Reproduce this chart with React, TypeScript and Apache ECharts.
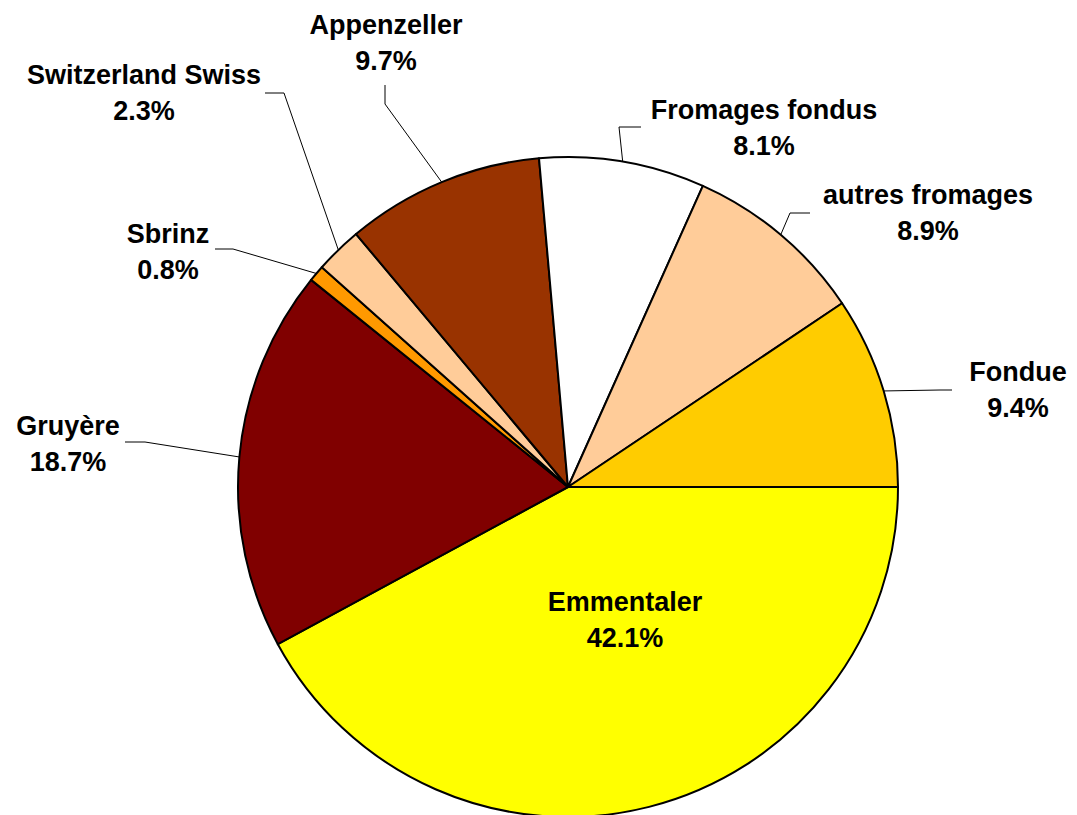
import React, { useEffect, useRef } from "react";
import * as echarts from "echarts";

const categories = [
  "Emmentaler",
  "Gruyère",
  "Sbrinz",
  "Switzerland Swiss",
  "Appenzeller",
  "Fromages fondus",
  "autres fromages",
  "Fondue",
];
const shares = [42.1, 18.7, 0.8, 2.3, 9.7, 8.1, 8.9, 9.4];
const colors = ["#FFFF00", "#800000", "#FF9900", "#FFCC99", "#993300", "#FFFFFF", "#FFCC99", "#FFCC00"];

// label layout (text centre, line end at label, elbow point)
const LABEL_POS: [number, number][] = [
  [625, 620],
  [68, 444],
  [168, 252],
  [144, 93],
  [386, 43],
  [764, 128],
  [928, 213],
  [1018, 390],
];
const LINE_END: ([number, number] | null)[] = [
  null,
  [125, 442],
  [215, 249],
  [265, 93],
  [385, 85],
  [641, 127],
  [810, 213],
  [952, 390],
];
const LINE_ELBOW: ([number, number] | null)[] = [
  null,
  [145, 442],
  [233, 249],
  [284, 93],
  [385, 104],
  [619, 127],
  [790, 213],
  [940, 390],
];

export default function App() {
  const ref = useRef<HTMLDivElement>(null);
  useEffect(() => {
    if (!ref.current) return;
    const chart = echarts.init(ref.current, null, { renderer: "svg" });
    const cx = 568;
    const cy = 487;
    const r = 330;
    chart.setOption({
      animation: false,
      backgroundColor: "#ffffff",
      series: [
        {
          type: "pie",
          center: [cx, cy],
          radius: r,
          startAngle: 0,
          clockwise: true,
          avoidLabelOverlap: false,
          itemStyle: { borderColor: "#000", borderWidth: 2 },
          label: {
            show: true,
            position: "outside",
            formatter: (p: any) => `${p.name}\n${Number(p.value).toFixed(1)}%`,
            fontFamily: "'Liberation Sans', Arial, sans-serif",
            fontWeight: "bold",
            fontSize: 27,
            lineHeight: 36,
            color: "#000",
            align: "center",
          },
          labelLine: {
            show: true,
            length: 10,
            length2: 10,
            lineStyle: { color: "#000", width: 1 },
          },
          labelLayout: (params: any) => {
            const i = params.dataIndex;
            const [x, y] = LABEL_POS[i];
            const out: any = { x, y, align: "center", verticalAlign: "middle" };
            const end = LINE_END[i];
            const elbow = LINE_ELBOW[i];
            if (end && elbow) {
              let p0 = params.labelLinePoints && params.labelLinePoints[0];
              if (!p0) {
                let cum = 0;
                for (let k = 0; k < i; k++) cum += shares[k];
                const a = ((cum + shares[i] / 2) / 100) * Math.PI * 2;
                p0 = [cx + r * Math.cos(a), cy + r * Math.sin(a)];
              }
              out.labelLinePoints = [p0, elbow, end];
            }
            return out;
          },
          data: categories.map((name, i) => ({
            name,
            value: shares[i],
            itemStyle: { color: colors[i] },
            ...(i === 0
              ? { label: { position: "inside" }, labelLine: { show: false } }
              : {}),
          })),
        },
      ],
    });
    return () => chart.dispose();
  }, []);
  return (
    <div
      ref={ref}
      style={{ position: "absolute", left: 0, top: 0, width: 1077, height: 815 }}
    />
  );
}
